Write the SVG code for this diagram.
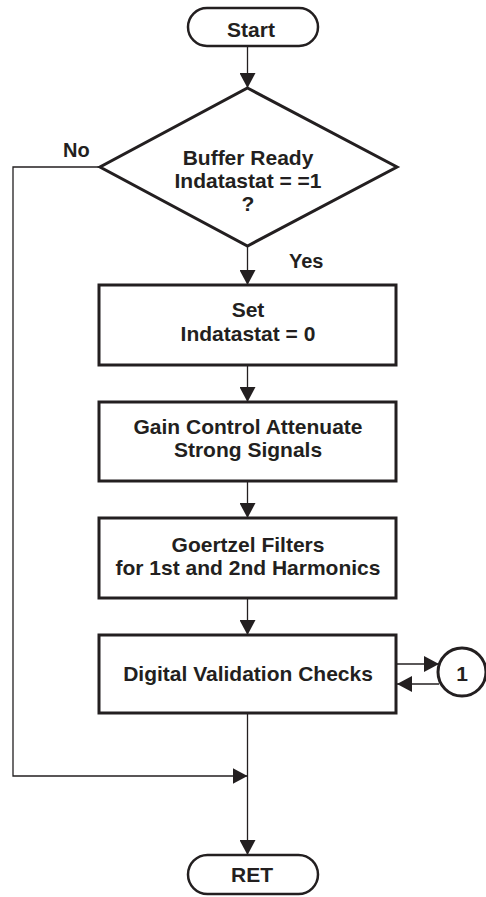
<svg xmlns="http://www.w3.org/2000/svg" width="486" height="897" viewBox="0 0 486 897">
<style>
.box{fill:#fff;stroke:#231f20;stroke-width:3}
.term{fill:#fff;stroke:#231f20;stroke-width:2.5}
.ln{fill:none;stroke:#231f20;stroke-width:1.3}
.t{font-family:"Liberation Sans",Arial,sans-serif;font-weight:bold;font-size:21px;fill:#231f20;text-anchor:middle}
.lb{font-family:"Liberation Sans",Arial,sans-serif;font-weight:bold;font-size:20px;fill:#231f20}
</style>
<defs>
<marker id="ar" viewBox="0 0 15 16" refX="15" refY="8" markerWidth="15" markerHeight="16" markerUnits="userSpaceOnUse" orient="auto">
<path d="M0,0 L15,8 L0,16 Z" fill="#231f20"/>
</marker>
</defs>
<rect width="486" height="897" fill="#fff"/>
<g id="connectors">
<line class="ln" x1="247.5" y1="46" x2="247.5" y2="88" marker-end="url(#ar)"/>
<line class="ln" x1="247.5" y1="246" x2="247.5" y2="285" marker-end="url(#ar)"/>
<line class="ln" x1="247.5" y1="365" x2="247.5" y2="402" marker-end="url(#ar)"/>
<line class="ln" x1="247.5" y1="481" x2="247.5" y2="518" marker-end="url(#ar)"/>
<line class="ln" x1="247.5" y1="598" x2="247.5" y2="635" marker-end="url(#ar)"/>
<line class="ln" x1="247.5" y1="713" x2="247.5" y2="855" marker-end="url(#ar)"/>
<polyline class="ln" points="100,167 13,167 13,776 247.5,776" marker-end="url(#ar)"/>
<line class="ln" x1="397" y1="664" x2="439" y2="664" marker-end="url(#ar)"/>
<line class="ln" x1="439" y1="684" x2="397" y2="684" marker-end="url(#ar)"/>
<text class="lb" x="63" y="157">No</text>
<text class="lb" x="289" y="268">Yes</text>
</g>
<g id="start">
<rect class="term" x="188" y="8" width="130" height="38" rx="19"/>
<text class="t" x="251" y="37">Start</text>
</g>
<g id="decision">
<polygon class="box" points="247.5,88 397,167 247.5,246 100,167"/>
<text class="t" x="248" y="165">Buffer Ready</text>
<text class="t" x="248" y="188">Indatastat = =1</text>
<text class="t" x="248" y="211">?</text>
</g>
<g id="set">
<rect class="box" x="99" y="285" width="297" height="80"/>
<text class="t" x="248" y="317">Set</text>
<text class="t" x="248" y="341">Indatastat = 0</text>
</g>
<g id="gain">
<rect class="box" x="99" y="402" width="297" height="79"/>
<text class="t" x="248" y="434">Gain Control Attenuate</text>
<text class="t" x="248" y="457">Strong Signals</text>
</g>
<g id="goertzel">
<rect class="box" x="99" y="518" width="297" height="80"/>
<text class="t" x="248" y="552">Goertzel Filters</text>
<text class="t" x="248" y="575">for 1st and 2nd Harmonics</text>
</g>
<g id="digital">
<rect class="box" x="99" y="635" width="297" height="78"/>
<text class="t" x="248" y="681">Digital Validation Checks</text>
</g>
<g id="conn1">
<circle class="box" cx="462" cy="672" r="24" stroke-width="2.5"/>
<text class="t" x="462" y="681">1</text>
</g>
<g id="ret">
<rect class="term" x="188" y="855" width="130" height="39" rx="19.5"/>
<text class="t" x="252" y="882">RET</text>
</g>
</svg>
